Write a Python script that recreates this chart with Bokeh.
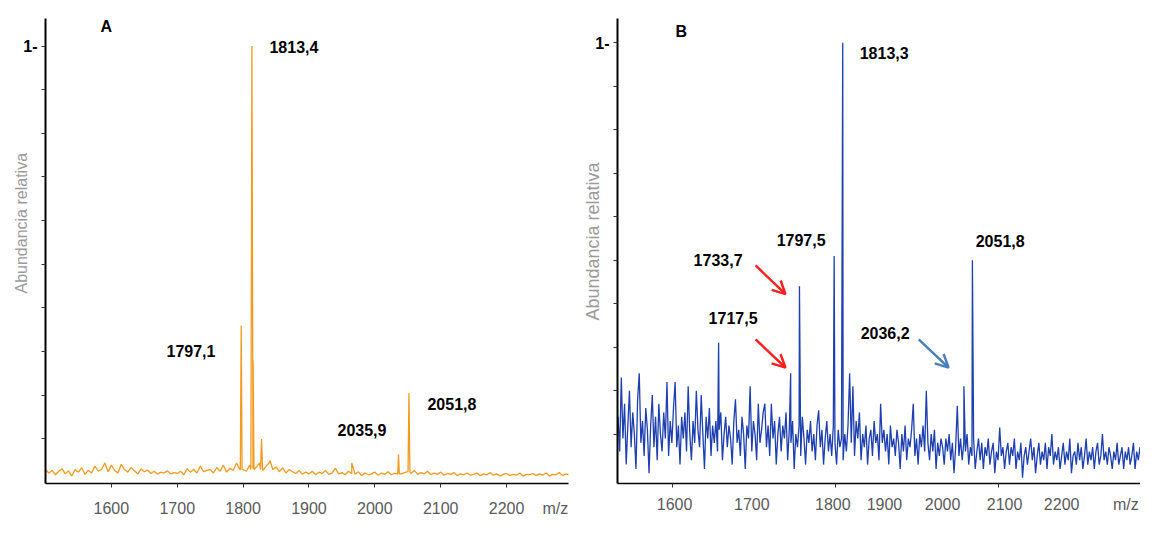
import numpy as np
from bokeh.plotting import figure
from bokeh.layouts import row
from bokeh.models import (FixedTicker, CustomJSTickFormatter, Label, Arrow, OpenHead,
                          Range1d, Title)
from bokeh.embed import file_html
from bokeh.resources import INLINE

# ---------------- data ----------------
# Panel A: baseline samples every 5 m/z from 1500
A_START, A_STEP = 1500, 5
A_NOISE = [
    0.03, 0.022, 0.028, 0.018, 0.026, 0.032, 0.02, 0.027, 0.015, 0.03,
    0.024, 0.034, 0.019, 0.028, 0.022, 0.038, 0.026, 0.03, 0.045, 0.025,
    0.04, 0.028, 0.022, 0.042, 0.03, 0.024, 0.035, 0.027, 0.02, 0.031,
    0.025, 0.029, 0.021, 0.026, 0.019, 0.024, 0.022, 0.027, 0.02, 0.023,
    0.021, 0.026, 0.018, 0.032, 0.024, 0.03, 0.022, 0.038, 0.025, 0.028,
    0.03, 0.022, 0.035, 0.026, 0.04, 0.024, 0.033, 0.028, 0.045, 0.03,
    0.03, 0.026, 0.04, 0.032, 0.035, 0.045, 0.028, 0.038, 0.046, 0.03,
    0.036, 0.025, 0.034, 0.022, 0.03, 0.025, 0.021, 0.028, 0.019, 0.024,
    0.02, 0.026, 0.018, 0.024, 0.021, 0.028, 0.019, 0.022, 0.033, 0.02,
    0.023, 0.018, 0.026, 0.021, 0.019, 0.025, 0.016, 0.022, 0.018, 0.02,
    0.024, 0.017, 0.022, 0.019, 0.025, 0.018, 0.021, 0.024, 0.02, 0.023,
    0.025, 0.021, 0.028, 0.019, 0.023, 0.02, 0.026, 0.018, 0.022, 0.019,
    0.024, 0.017, 0.021, 0.019, 0.023, 0.016, 0.02, 0.018, 0.022, 0.017,
    0.019, 0.022, 0.016, 0.02, 0.018, 0.023, 0.017, 0.02, 0.015, 0.019,
    0.021, 0.016, 0.019, 0.017, 0.022, 0.015, 0.019, 0.018, 0.021, 0.016,
    0.02, 0.017, 0.022, 0.015, 0.019, 0.018, 0.023, 0.016, 0.02, 0.018,
]
A_PEAK_MZ = [1795.8, 1797.1, 1798.4, 1811.8, 1813.4, 1815.2, 1816.5,
             1826.5, 1828.0, 1829.5, 1841.0, 1965.0,
             2034.6, 2035.9, 2037.2, 2050.4, 2051.8, 2053.2]
A_PEAK_INT = [0.03, 0.36, 0.03, 0.03, 1.0, 0.28, 0.03,
              0.03, 0.10, 0.03, 0.05, 0.045,
              0.02, 0.065, 0.02, 0.025, 0.205, 0.025]

# Panel B: baseline samples every 3 m/z from 1400
B_START, B_STEP = 1400, 3
B_NOISE = [
    0.14, 0.06, 0.23, 0.09, 0.17, 0.03, 0.12, 0.2, 0.07, 0.15,
    0.1, 0.02, 0.18, 0.24, 0.08, 0.13, 0.05, 0.16, 0.11, 0.01,
    0.12, 0.19, 0.07, 0.14, 0.04, 0.17, 0.1, 0.06, 0.15, 0.09,
    0.22, 0.05, 0.13, 0.08, 0.16, 0.22, 0.07, 0.12, 0.03, 0.14,
    0.09, 0.15, 0.06, 0.21, 0.1, 0.04, 0.13, 0.08, 0.2, 0.11,
    0.07, 0.19, 0.1, 0.02, 0.14, 0.09, 0.16, 0.05, 0.12, 0.08,
    0.13, 0.06, 0.11, 0.15, 0.04, 0.1, 0.14, 0.07, 0.12, 0.09,
    0.03, 0.13, 0.18, 0.08, 0.11, 0.05, 0.14, 0.1, 0.02, 0.12,
    0.09, 0.21, 0.06, 0.13, 0.1, 0.04, 0.17, 0.08, 0.11, 0.15,
    0.17, 0.07, 0.12, 0.05, 0.17, 0.09, 0.13, 0.03, 0.1, 0.14,
    0.06, 0.12, 0.09, 0.15, 0.04, 0.11, 0.08, 0.13, 0.02, 0.1,
    0.07, 0.12, 0.05, 0.14, 0.09, 0.03, 0.11, 0.08, 0.13, 0.06,
    0.1, 0.04, 0.12, 0.155, 0.07, 0.11, 0.03, 0.09, 0.13, 0.06,
    0.1, 0.05, 0.12, 0.08, 0.03, 0.11, 0.07, 0.09, 0.04, 0.1,
    0.06, 0.12, 0.24, 0.08, 0.21, 0.05, 0.13, 0.09, 0.15, 0.04,
    0.1, 0.07, 0.12, 0.03, 0.09, 0.11, 0.05, 0.13, 0.08, 0.1,
    0.04, 0.17, 0.08, 0.11, 0.06, 0.1, 0.03, 0.12, 0.07, 0.09,
    0.05, 0.11, 0.08, 0.02, 0.1, 0.06, 0.12, 0.04, 0.09, 0.07,
    0.11, 0.17, 0.05, 0.09, 0.03, 0.1, 0.07, 0.12, 0.06, 0.2,
    0.08, 0.04, 0.1, 0.06, 0.11, 0.02, 0.08, 0.05, 0.09, 0.07,
    0.03, 0.09, 0.06, 0.1, 0.04, 0.08, 0.01, 0.07, 0.165, 0.05,
    0.09, 0.04, 0.08, 0.06, 0.1, 0.03, 0.07, 0.05, 0.09, 0.02,
    0.06, 0.09, 0.04, 0.08, 0.02, 0.07, 0.05, 0.09, 0.03, 0.06,
    0.08, 0.01, 0.06, 0.04, 0.115, 0.05, 0.07, 0.02, 0.06, 0.08,
    0.03, 0.07, 0.05, 0.09, 0.02, 0.06, 0.04, 0.08, 0.0, 0.05,
    0.07, 0.03, 0.06, 0.09, 0.04, 0.07, 0.01, 0.05, 0.08, 0.03,
    0.06, 0.04, 0.08, 0.02, 0.07, 0.05, 0.1, 0.03, 0.06, 0.04,
    0.07, 0.02, 0.05, 0.08, 0.03, 0.06, 0.04, 0.09, 0.01, 0.05,
    0.06, 0.03, 0.08, 0.04, 0.07, 0.02, 0.05, 0.09, 0.03, 0.06,
    0.04, 0.07, 0.02, 0.06, 0.08, 0.03, 0.05, 0.1, 0.04, 0.06,
    0.03, 0.07, 0.05, 0.02, 0.06, 0.04, 0.08, 0.03, 0.05, 0.07,
    0.02, 0.06, 0.04, 0.07, 0.03, 0.05, 0.08, 0.02, 0.06, 0.04,
    0.07, 0.03, 0.05, 0.06, 0.02, 0.05,
]
B_PEAK_MZ = [1585.0, 1717.5, 1733.7, 1797.5, 1813.3, 2036.2, 2051.8]
B_PEAK_INT = [0.31, 0.24, 0.44, 0.51, 1.0, 0.21, 0.50]

Y_TICKS = [0.1, 0.2, 0.3, 0.4, 0.5, 0.6, 0.7, 0.8, 0.9, 1.0]
A_TICK_MARKS = [1600, 1700, 1800, 1900, 2000, 2100, 2200]
A_TICK_POS = [1600, 1700, 1800, 1900, 2000, 2100, 2200, 2274]
A_TICK_LABELS = ["1600", "1700", "1800", "1900", "2000", "2100", "2200", "m/z"]
B_TICK_MARKS = [1500, 1800, 2100]
B_TICK_POS = [1504, 1646, 1795, 1890, 1997, 2111, 2216, 2334]
B_TICK_LABELS = ["1600", "1700", "1800", "1900", "2000", "2100", "2200", "m/z"]

A_LABELS = ["1813,4", "1797,1", "2035,9", "2051,8"]
B_LABELS = ["1813,3", "1797,5", "1733,7", "1717,5", "2036,2", "2051,8"]
Y_TITLE = "Abundancia relativa"

FONT = "Liberation Sans"
H = 519


def spectrum(start, step, noise, pk_mz, pk_int):
    mz = start + step * np.arange(len(noise))
    x = np.concatenate([mz, np.array(pk_mz, dtype=float)])
    y = np.concatenate([np.array(noise, dtype=float), np.array(pk_int, dtype=float)])
    o = np.argsort(x, kind="stable")
    return x[o], y[o]


def style(p, tick_pos, tick_marks, tick_labels, standoff, title_offset,
          title_standoff, title_size):
    p.background_fill_color = "white"
    p.border_fill_color = "white"
    p.outline_line_color = None
    p.grid.visible = False
    ya = p.yaxis[0]
    ya.ticker = FixedTicker(ticks=Y_TICKS)
    ya.formatter = CustomJSTickFormatter(code="return tick > 0.99 ? '1-' : '';")
    ya.axis_line_width = 2
    ya.axis_line_color = "black"
    ya.major_tick_out = 4
    ya.major_tick_in = 0
    ya.minor_tick_out = 0
    ya.minor_tick_in = 0
    ya.major_tick_line_color = "#333333"
    ya.major_label_text_font = FONT
    ya.major_label_text_font_size = "16px"
    ya.major_label_text_font_style = "bold"
    ya.major_label_text_color = "black"
    ya.major_label_standoff = 4
    xa = p.xaxis[0]
    xa.ticker = FixedTicker(ticks=tick_pos, minor_ticks=tick_marks)
    xa.major_label_overrides = {pos: lab for pos, lab in zip(tick_pos, tick_labels)}
    xa.axis_line_width = 1.5
    xa.axis_line_color = "black"
    xa.major_tick_out = 0
    xa.major_tick_in = 0
    xa.minor_tick_out = 4
    xa.minor_tick_in = 0
    xa.minor_tick_line_color = "#333333"
    xa.major_label_text_font = FONT
    xa.major_label_text_font_size = "16px"
    xa.major_label_text_color = "#5a5a5a"
    xa.major_label_standoff = standoff
    p.add_layout(Title(text=Y_TITLE, align="left", offset=title_offset,
                       standoff=title_standoff,
                       text_font=FONT, text_font_size=title_size,
                       text_font_style="normal", text_color="#9a9a9a"), "left")


def add_text(p, x, y, txt):
    p.add_layout(Label(x=x, y=y, text=txt, text_font=FONT, text_font_size="16px",
                       text_font_style="bold", text_color="black",
                       text_align="left", text_baseline="middle"))


# ---------------- panel A ----------------
ax, ay = spectrum(A_START, A_STEP, A_NOISE, A_PEAK_MZ, A_PEAK_INT)
pA = figure(width=580, height=H, x_range=Range1d(1500, 2294),
            y_range=Range1d(-0.002, 1.063), output_backend="svg",
            toolbar_location=None, min_border_left=45, min_border_right=12,
            min_border_top=15, min_border_bottom=32)
pA.line(ax, ay, line_color="#f39a1f", line_width=1.3)
style(pA, A_TICK_POS, A_TICK_MARKS, A_TICK_LABELS, 12, 190, -19, "16px")

add_text(pA, 1583.5, 1.044, "A")
add_text(pA, 1840.0, 0.998, A_LABELS[0])
add_text(pA, 1683.7, 0.302, A_LABELS[1])
add_text(pA, 1943.3, 0.121, A_LABELS[2])
add_text(pA, 2079.9, 0.181, A_LABELS[3])

# ---------------- panel B ----------------
bx, by = spectrum(B_START, B_STEP, B_NOISE, B_PEAK_MZ, B_PEAK_INT)
pB = figure(width=560, height=H, x_range=Range1d(1399, 2361),
            y_range=Range1d(-0.0135, 1.056), output_backend="svg",
            toolbar_location=None, min_border_left=37, min_border_right=0,
            min_border_top=18, min_border_bottom=27)
pB.line(bx, by, line_color="#1d3faf", line_width=1.3)
style(pB, B_TICK_POS, B_TICK_MARKS, B_TICK_LABELS, 8, 163, -21, "18px")

add_text(pB, 1505.9, 1.027, "B")
add_text(pB, 1844.5, 0.976, B_LABELS[0])
add_text(pB, 1691.7, 0.546, B_LABELS[1])
add_text(pB, 1539.0, 0.500, B_LABELS[2])
add_text(pB, 1566.6, 0.367, B_LABELS[3])
add_text(pB, 1846.3, 0.332, B_LABELS[4])
add_text(pB, 2057.9, 0.544, B_LABELS[5])

for (xs, ys, xe, ye, col) in [(1653, 0.488, 1708, 0.422, "#ff2020"),
                              (1653, 0.318, 1708, 0.253, "#ff2020"),
                              (1953, 0.318, 2008, 0.253, "#4a7fbd")]:
    pB.add_layout(Arrow(x_start=xs, y_start=ys, x_end=xe, y_end=ye,
                        line_color=col, line_width=2.5,
                        end=OpenHead(size=13, line_color=col, line_width=2.5)))

layout = row(pA, pB)
open("out.html", "w").write(file_html(layout, INLINE))
